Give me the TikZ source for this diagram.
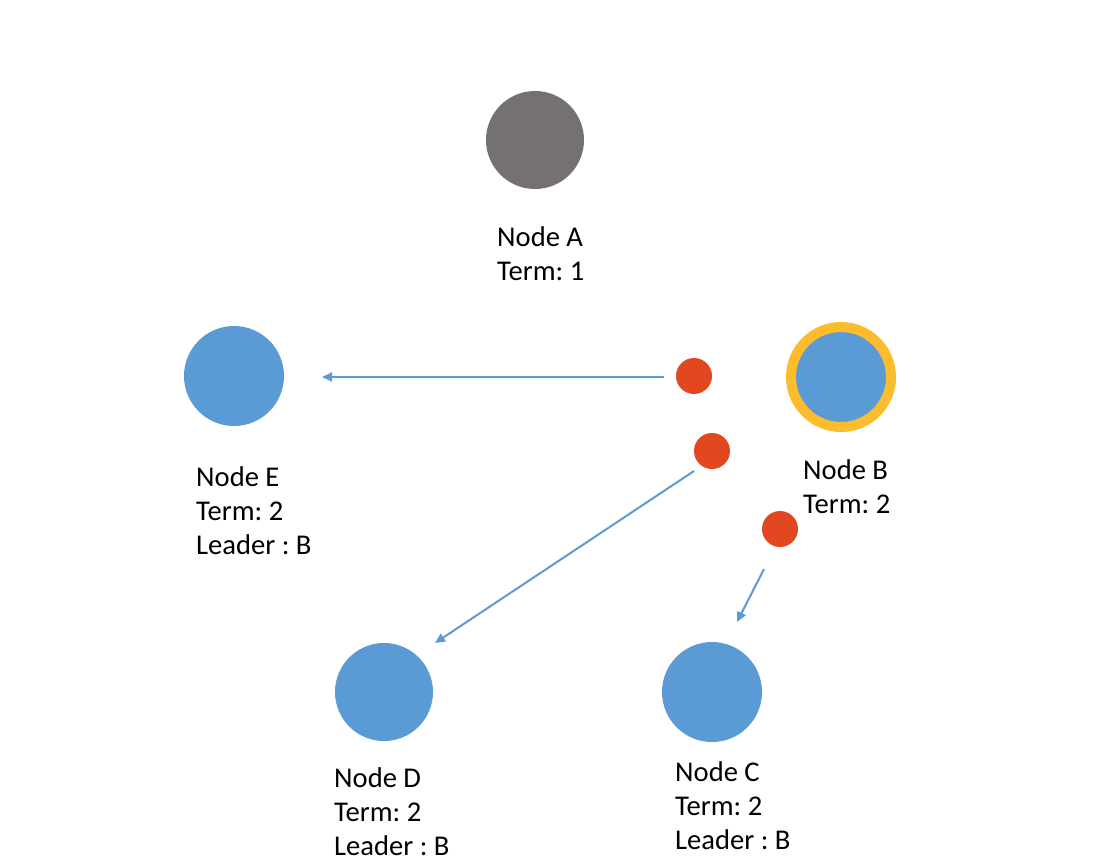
\documentclass[tikz,border=0pt]{standalone}
\usepackage{fontspec}
\setmainfont{Carlito}
\frenchspacing
\usetikzlibrary{arrows.meta}
\definecolor{nodegray}{HTML}{767171}
\definecolor{nodeblue}{HTML}{5B9BD5}
\definecolor{leaderring}{HTML}{FBBC2D}
\definecolor{msgred}{HTML}{E1481F}
\tikzset{
  srv/.style={circle, fill=nodeblue, draw=none, minimum size=#1, inner sep=0pt},
  msg/.style={circle, fill=msgred, draw=none, minimum size=36pt, inner sep=0pt},
  lbl/.style={anchor=west, align=left, inner sep=0pt, font=\fontsize{28.6}{34}\selectfont},
  rpc/.style={draw=nodeblue, line width=2pt, -{Triangle[length=10pt,width=9pt]}},
}
\begin{document}
\begin{tikzpicture}[x=1pt,y=-1pt]
\useasboundingbox (0,0) rectangle (1102,864);
% servers
\node[srv=98pt, fill=nodegray] (A) at (535,140) {};
\node[srv=100pt] (E) at (234,376) {};
\node[srv=100pt, draw=leaderring, line width=10pt] (B) at (841,377) {};
\node[srv=98pt] (D) at (384,692) {};
\node[srv=100pt] (C) at (712,692) {};
% labels
\node[lbl] (Alab) at (497,254) {Node A\\Term: 1};
\node[lbl] (Elab) at (196,511) {Node E\\Term: 2\\Leader : B};
\node[lbl] (Blab) at (803,487) {Node B\\Term: 2};
\node[lbl] (Dlab) at (334,812) {Node D\\Term: 2\\Leader : B};
\node[lbl] (Clab) at (675,806) {Node C\\Term: 2\\Leader : B};
% messages
\node[msg] (m1) at (694,376) {};
\node[msg] (m2) at (712,451) {};
\node[msg] (m3) at (780,529) {};
% connector ends
\coordinate (s1) at (664,377);
\coordinate (t1) at (322,377);
\coordinate (s2) at (694,471);
\coordinate (t2) at (435,643);
\coordinate (s3) at (764,569);
\coordinate (t3) at (737,622);
\draw[rpc] (s1) -- (t1);
\draw[rpc] (s2) -- (t2);
\draw[rpc] (s3) -- (t3);
\end{tikzpicture}
\end{document}
